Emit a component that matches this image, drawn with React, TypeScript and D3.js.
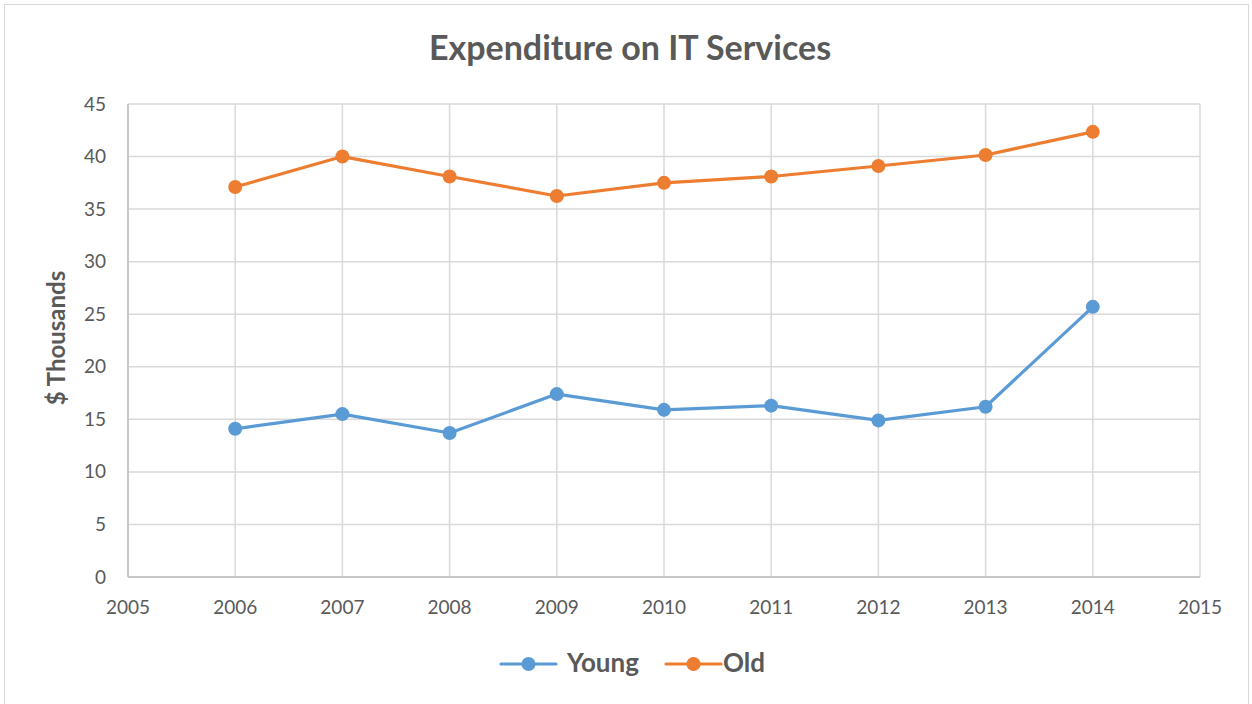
import React from "react";
import * as d3 from "d3";

const years = [2006, 2007, 2008, 2009, 2010, 2011, 2012, 2013, 2014];
const young = [14.1, 15.5, 13.7, 17.4, 15.9, 16.3, 14.9, 16.2, 25.7];
const old = [37.1, 40.0, 38.1, 36.25, 37.5, 38.1, 39.1, 40.15, 42.35];
const xTicks = [2005, 2006, 2007, 2008, 2009, 2010, 2011, 2012, 2013, 2014, 2015];
const yTicks = [0, 5, 10, 15, 20, 25, 30, 35, 40, 45];
const seriesNames = ["Young", "Old"];
const seriesColors = ["#5b9bd5", "#ed7d31"];

export default function App() {
  const W = 1252, H = 704;
  const x = d3.scaleLinear().domain([2005, 2015]).range([128, 1200]);
  const y = d3.scaleLinear().domain([0, 45]).range([577, 104]);
  const line = d3.line<[number, number]>().x(d => x(d[0])).y(d => y(d[1]));
  const data = [young, old];
  const font = "Lato, 'Open Sans', sans-serif";
  const txt = "#595959";
  const legend = [
    { lx: 501, tx: 567 },
    { lx: 666, tx: 723 },
  ];
  return (
    <svg width={W} height={H} style={{ position: "absolute", left: 0, top: 0, fontFamily: font }}>
      <rect x={0} y={0} width={W} height={H} fill="#fff" />
      <rect x={4.5} y={4.5} width={1244} height={720} fill="none" stroke="#d9d9d9" strokeWidth={1} />
      <text x={630} y={60} textAnchor="middle" fontSize={34} fontWeight="bold" fill={txt}>Expenditure on IT Services</text>
      {yTicks.map(t => (
        <g key={"y" + t}>
          <line x1={128} x2={1200} y1={y(t)} y2={y(t)} stroke="#d9d9d9" strokeWidth={1.5} />
          <text x={106} y={y(t) + 6.5} textAnchor="end" fontSize={19} fill={txt}>{t}</text>
        </g>
      ))}
      {xTicks.map(t => (
        <g key={"x" + t}>
          <line x1={x(t)} x2={x(t)} y1={104} y2={577} stroke="#d9d9d9" strokeWidth={1.5} />
          <text x={x(t)} y={614} textAnchor="middle" fontSize={19} fill={txt}>{t}</text>
        </g>
      ))}
      <line x1={128} x2={1200} y1={577} y2={577} stroke="#bfbfbf" strokeWidth={1.5} />
      <line x1={128} x2={128} y1={104} y2={577} stroke="#bfbfbf" strokeWidth={1.5} />
      <text transform="translate(65,338) rotate(-90)" textAnchor="middle" fontSize={24} fontWeight="bold" fill={txt}>$ Thousands</text>
      {data.map((vals, i) => {
        const pts: [number, number][] = years.map((yr, j) => [yr, vals[j]]);
        return (
          <g key={"s" + i}>
            <path d={line(pts) || ""} fill="none" stroke={seriesColors[i]} strokeWidth={3.2} strokeLinejoin="round" />
            {pts.map((p, j) => (
              <circle key={j} cx={x(p[0])} cy={y(p[1])} r={7} fill={seriesColors[i]} />
            ))}
          </g>
        );
      })}
      {seriesNames.map((n, i) => {
        const { lx, tx } = legend[i];
        return (
          <g key={"l" + i}>
            <line x1={lx} x2={lx + 55} y1={664} y2={664} stroke={seriesColors[i]} strokeWidth={3.2} strokeLinecap="round" />
            <circle cx={lx + 27.5} cy={664} r={7} fill={seriesColors[i]} />
            <text x={tx} y={672} fontSize={26} fontWeight="bold" fill={txt}>{n}</text>
          </g>
        );
      })}
    </svg>
  );
}
